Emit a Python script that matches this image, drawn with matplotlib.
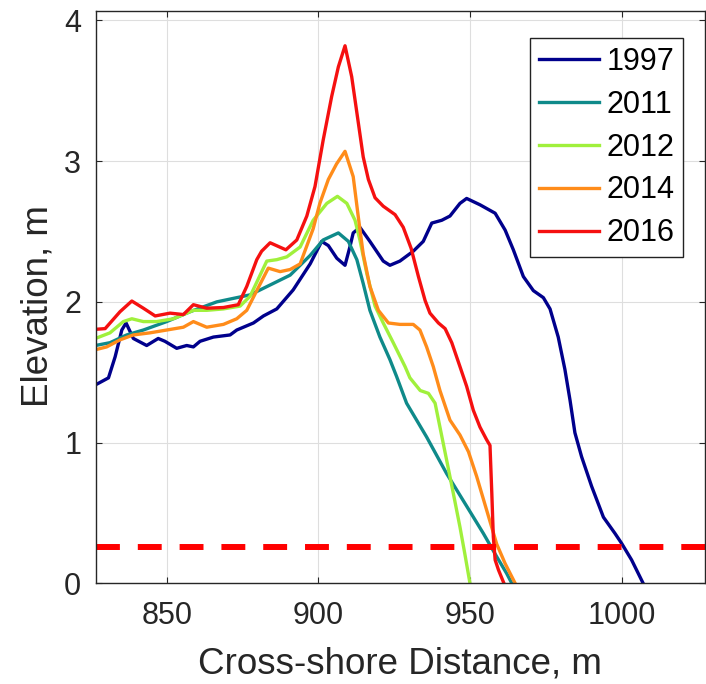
import matplotlib
matplotlib.use("Agg")
from matplotlib import pyplot as plt

plt.rcParams['font.family'] = ['Liberation Sans', 'DejaVu Sans']

# cross-shore profiles (distance m, elevation m)
x_1997 = [826.5, 830.8, 833.0, 835.2, 836.6, 839.0, 843.4, 847.2, 849.4, 853.3,
          856.6, 858.8, 861.0, 865.4, 870.9, 873.1, 878.6, 881.9, 886.3, 891.7,
          897.3, 901.1, 903.3, 906.1, 908.8, 910.4, 911.5, 913.7, 917.0, 921.4,
          923.6, 926.9, 931.3, 934.6, 937.4, 940.7, 943.4, 946.7, 948.9, 953.3,
          958.3, 961.6, 964.3, 967.6, 970.9, 974.2, 976.4, 979.1, 981.3, 983.0,
          984.6, 986.8, 990.1, 994.0, 997.8, 1000.0, 1003.3, 1007.1]
y_1997 = [1.41, 1.46, 1.61, 1.80, 1.85, 1.74, 1.69, 1.74, 1.72, 1.67,
          1.69, 1.68, 1.72, 1.75, 1.765, 1.80, 1.85, 1.90, 1.95, 2.085,
          2.27, 2.43, 2.40, 2.31, 2.26, 2.39, 2.49, 2.53, 2.43, 2.29,
          2.26, 2.29, 2.36, 2.43, 2.56, 2.58, 2.61, 2.70, 2.735, 2.69,
          2.63, 2.51, 2.37, 2.18, 2.08, 2.03, 1.95, 1.75, 1.52, 1.30,
          1.07, 0.90, 0.69, 0.47, 0.355, 0.284, 0.166, 0.0]

x_2011 = [826.5, 831.3, 836.8, 842.3, 850.0, 857.7, 866.5, 873.1, 877.5, 884.1,
          890.7, 897.3, 901.6, 906.6, 909.9, 912.7, 914.8, 917.0, 920.3, 923.6,
          925.8, 929.1, 935.7, 942.3, 949.0, 954.4, 958.8, 962.1, 963.8]
y_2011 = [1.69, 1.71, 1.765, 1.80, 1.86, 1.93, 2.00, 2.03, 2.05, 2.12,
          2.19, 2.33, 2.44, 2.49, 2.43, 2.30, 2.13, 1.94, 1.75, 1.59,
          1.47, 1.28, 1.04, 0.78, 0.545, 0.355, 0.19, 0.07, 0.0]

x_2012 = [826.5, 831.3, 835.7, 838.5, 842.3, 846.7, 852.2, 858.8, 863.2, 868.7,
          874.2, 877.5, 880.8, 883.0, 886.3, 889.6, 894.0, 898.3, 902.8, 906.3,
          909.4, 912.1, 913.7, 916.0, 918.7, 921.4, 924.7, 928.6, 930.2, 933.6,
          936.3, 938.5, 940.1, 942.3, 944.5, 946.7, 948.3, 950.0]
y_2012 = [1.74, 1.78, 1.86, 1.88, 1.86, 1.86, 1.88, 1.94, 1.94, 1.95,
          1.97, 2.04, 2.19, 2.29, 2.30, 2.32, 2.39, 2.58, 2.70, 2.75,
          2.70, 2.58, 2.44, 2.20, 1.97, 1.85, 1.71, 1.54, 1.46, 1.37,
          1.35, 1.28, 1.11, 0.876, 0.64, 0.40, 0.21, 0.0]

x_2014 = [826.5, 830.2, 834.6, 839.0, 844.5, 850.0, 855.5, 858.8, 863.2, 868.7,
          873.1, 876.4, 879.7, 883.5, 887.4, 890.7, 894.0, 898.3, 900.5, 903.3,
          906.0, 908.8, 911.5, 913.2, 914.8, 917.0, 919.8, 923.1, 926.9, 931.3,
          933.5, 935.7, 937.9, 940.1, 943.4, 946.7, 949.5, 952.2, 955.5, 958.8,
          961.6, 964.9]
y_2014 = [1.66, 1.68, 1.73, 1.765, 1.78, 1.80, 1.82, 1.86, 1.82, 1.84,
          1.88, 1.94, 2.08, 2.24, 2.215, 2.23, 2.27, 2.52, 2.70, 2.87,
          2.98, 3.07, 2.89, 2.60, 2.34, 2.11, 1.94, 1.85, 1.84, 1.84,
          1.80, 1.68, 1.54, 1.37, 1.16, 1.054, 0.935, 0.76, 0.52, 0.28,
          0.14, 0.0]

x_2016 = [826.5, 829.7, 834.6, 838.5, 842.3, 846.2, 851.1, 855.5, 858.8, 863.2,
          868.7, 873.6, 876.4, 879.7, 881.3, 884.1, 889.3, 892.9, 896.2, 898.9,
          901.6, 904.4, 906.6, 908.8, 911.0, 913.2, 914.8, 916.5, 918.7, 921.4,
          925.3, 928.0, 930.6, 933.0, 935.2, 936.8, 939.6, 941.8, 944.0, 946.7,
          948.9, 951.1, 953.3, 955.5, 956.6, 957.2, 957.7, 958.3, 959.4, 961.2]
y_2016 = [1.805, 1.81, 1.93, 2.006, 1.955, 1.90, 1.92, 1.91, 1.98, 1.955,
          1.96, 1.98, 2.11, 2.30, 2.36, 2.42, 2.37, 2.44, 2.61, 2.82,
          3.15, 3.46, 3.67, 3.82, 3.60, 3.27, 3.03, 2.87, 2.74, 2.68,
          2.62, 2.53, 2.38, 2.18, 2.01, 1.92, 1.85, 1.81, 1.71, 1.54,
          1.40, 1.23, 1.11, 1.02, 0.98, 0.64, 0.33, 0.166, 0.095, 0.0]

years = ['1997', '2011', '2012', '2014', '2016']
colors = ['#00008c', '#0f8a8a', '#a0f03c', '#ff8c1a', '#f51010']
water_level = 0.26

series = [(x_1997, y_1997), (x_2011, y_2011), (x_2012, y_2012),
          (x_2014, y_2014), (x_2016, y_2016)]

fig = plt.figure(figsize=(7.06, 6.84), dpi=100)
ax = fig.add_axes([0.1356, 0.1472, 0.8630, 0.8367])

for (xs, ys), yr, c in zip(series, years, colors):
    ax.plot(xs, ys, color=c, lw=2.4, label=yr, solid_joinstyle='round')

ax.axhline(water_level, color='#ff0000', lw=4.3, dashes=(4.0, 3.0),
           dash_capstyle='butt')

ax.set_xlim(826.6, 1027.5)
ax.set_ylim(0, 4.067)
ax.set_xticks([850, 900, 950, 1000])
ax.set_yticks([0, 1, 2, 3, 4])
ax.grid(True, color='#dedede', lw=0.8)
ax.set_axisbelow(True)

dark = '#262626'
for s in ax.spines.values():
    s.set_color(dark)
    s.set_linewidth(1.0)
ax.tick_params(direction='in', top=True, right=True, length=4,
               width=0.8, color=dark, labelcolor=dark, labelsize=22)
ax.tick_params(axis='x', pad=12.5)
ax.tick_params(axis='y', pad=10.5)

ax.set_xlabel('Cross-shore Distance, m', fontsize=26.5, color=dark)
ax.set_ylabel('Elevation, m', fontsize=26.5, color=dark)
ax.xaxis.set_label_coords(0.5, -0.11)
ax.yaxis.set_label_coords(-0.066, 0.484)

leg = ax.legend(loc='upper right', bbox_to_anchor=(0.9644, 0.9533),
                borderaxespad=0, fontsize=22, handlelength=1.96,
                handletextpad=0.23, labelspacing=0.42, borderpad=0.3,
                fancybox=False, framealpha=1, edgecolor='#222222')
leg.get_frame().set_linewidth(1.0)

fig.savefig('out.png', dpi=100)
